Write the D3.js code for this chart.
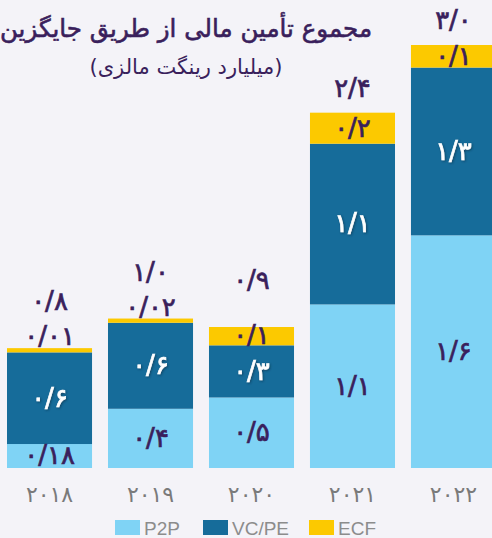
<!DOCTYPE html>
<html>
<head>
<meta charset="utf-8">
<script src="https://cdn.jsdelivr.net/npm/d3@7"></script>
<style>
  html, body { margin: 0; padding: 0; background: #f4f3f8; }
  svg { display: block; }
  .fa { font-family: "DejaVu Sans", sans-serif; }
  .legend-text { font-family: "Liberation Sans", Arial, sans-serif; font-size: 19px; fill: #8c8c8c; }
</style>
</head>
<body>
<div id="chart"></div>
<script>
// Data (billions of Malaysian ringgit)
const years = ["2018", "2019", "2020", "2021", "2022"];
const p2p  = [0.17, 0.42, 0.50, 1.16, 1.65];
const vcpe = [0.65, 0.61, 0.37, 1.14, 1.19];
const ecf  = [0.03, 0.03, 0.13, 0.22, 0.16];

// Printed labels as in the original
const p2pLabels   = ["0/18", "0/4", "0/5", "1/1", "1/6"];
const vcpeLabels  = ["0/6", "0/6", "0/3", "1/1", "1/3"];
const ecfLabels   = ["0/01", "0/02", "0/1", "0/2", "0/1"];
const totalLabels = ["0/8", "1/0", "0/9", "2/4", "3/0"];

const seriesNames = ["P2P", "VC/PE", "ECF"];
const colors = { "P2P": "#7fd3f5", "VC/PE": "#166c9a", "ECF": "#fcc900" };

const toFa = s => s.replace(/\d/g, d => "۰۱۲۳۴۵۶۷۸۹"[+d]);

const width = 492, height = 538;
const baseY = 468, topY = 45;
const textColor = "#3a1f5c";

const rows = years.map((y, i) => ({
  year: y, "P2P": p2p[i], "VC/PE": vcpe[i], "ECF": ecf[i], i
}));

const svg = d3.select("#chart").append("svg")
  .attr("width", width).attr("height", height)
  .attr("viewBox", `0 0 ${width} ${height}`);

svg.append("rect").attr("width", width).attr("height", height).attr("fill", "#f4f3f8");

const x = d3.scaleBand()
  .domain(years)
  .range([7, 496])
  .paddingInner(0.158)
  .paddingOuter(0);

const y = d3.scaleLinear()
  .domain([0, 3.0])
  .range([baseY, topY]);

const stack = d3.stack().keys(seriesNames);
const series = stack(rows);

// Bars
svg.selectAll(".serie")
  .data(series)
  .enter().append("g")
    .attr("class", "serie")
    .attr("fill", d => colors[d.key])
  .selectAll("rect")
  .data(d => d)
  .enter().append("rect")
    .attr("x", d => x(d.data.year))
    .attr("y", d => y(d[1]))
    .attr("width", x.bandwidth())
    .attr("height", d => y(d[0]) - y(d[1]));

// Shadow for white labels
const defs = svg.append("defs");
const f = defs.append("filter").attr("id", "shadow").attr("x", "-20%").attr("y", "-20%").attr("width", "140%").attr("height", "140%");
f.append("feDropShadow").attr("dx", 1).attr("dy", 1).attr("stdDeviation", 0.8)
  .attr("flood-color", "#0a2a40").attr("flood-opacity", 0.6);

function label(cx, cy, txt, fill, shadow) {
  const t = svg.append("text")
    .attr("class", "fa")
    .attr("x", cx).attr("y", cy)
    .attr("dy", "0.32em")
    .attr("text-anchor", "middle")
    .attr("font-size", 26)
    .attr("letter-spacing", 4)
    .attr("fill", fill)
    .attr("stroke", fill)
    .attr("stroke-width", 0.7)
    .text(toFa(txt));
  if (shadow) t.attr("filter", "url(#shadow)");
}

rows.forEach((d, i) => {
  const cx = x(d.year) + x.bandwidth() / 2;
  const sP = series[0][i], sV = series[1][i], sE = series[2][i];

  label(cx, (y(sP[0]) + y(sP[1])) / 2, p2pLabels[i], textColor, false);
  label(cx, (y(sV[0]) + y(sV[1])) / 2, vcpeLabels[i], "#ffffff", true);

  const ecfH = y(sE[0]) - y(sE[1]);
  const top = y(sE[1]);
  if (ecfH < 10) {
    label(cx, top - 11, ecfLabels[i], textColor, false);
  } else {
    label(cx, (y(sE[0]) + y(sE[1])) / 2, ecfLabels[i], textColor, false);
  }
  label(cx, top - (ecfH < 20 ? 46 : 24), totalLabels[i], textColor, false);

  // year labels
  svg.append("text")
    .attr("class", "fa")
    .attr("x", cx).attr("y", 495)
    .attr("dy", "0.32em")
    .attr("text-anchor", "middle")
    .attr("font-size", 22)
    .attr("letter-spacing", 10)
    .attr("fill", "#7a7a7a")
    .text(toFa(d.year));
});

// Title
svg.append("text")
  .attr("class", "fa")
  .attr("x", 186).attr("y", 37)
  .attr("text-anchor", "middle")
  .attr("direction", "rtl")
  .attr("font-size", 24.5)
  .attr("fill", textColor)
  .attr("stroke", textColor)
  .attr("stroke-width", 0.6)
  .text("مجموع تأمین مالی از طریق جایگزین");

svg.append("text")
  .attr("class", "fa")
  .attr("x", 186).attr("y", 74)
  .attr("text-anchor", "middle")
  .attr("direction", "rtl")
  .attr("font-size", 21)
  .attr("fill", textColor)
  .text("(میلیارد رینگت مالزی)");

// Legend
const legendX = [115, 203, 309];
const legend = svg.append("g");
seriesNames.forEach((name, i) => {
  const item = legend.append("g").attr("transform", `translate(${legendX[i]}, 520)`);
  item.append("rect").attr("width", 25).attr("height", 15).attr("fill", colors[name]);
  item.append("text")
    .attr("class", "legend-text")
    .attr("x", 29).attr("y", 15)
    .text(name);
});
</script>
</body>
</html>
